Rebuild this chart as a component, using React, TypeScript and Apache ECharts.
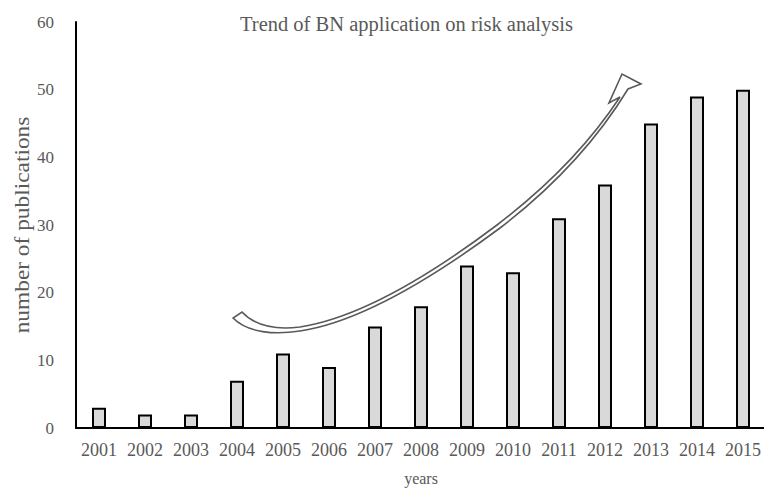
import React, { useEffect, useRef } from "react";
import * as echarts from "echarts";

const years = ["2001", "2002", "2003", "2004", "2005", "2006", "2007", "2008", "2009", "2010", "2011", "2012", "2013", "2014", "2015"];
const publications = [3, 2, 2, 7, 11, 9, 15, 18, 24, 23, 31, 36, 45, 49, 50];
const yTicks = { min: 0, max: 60, interval: 10 };
const yAxisTitle = "number of publications";

// Curved block arrow showing the upward trend
const trendArrowPath =
  "M233,318 C248,333 275,335 300,331 C360,322 430,280 500,228 C560,182 600,135 628,89 " +
  "L641,84 L622,74 L609,103 L620,97 " +
  "C595,135 556,180 497,225 C428,277 358,318 300,327 C276,330 255,326 242,312 Z";

echarts.graphic.registerShape("trendArrow", echarts.graphic.extendPath(trendArrowPath, {}) as any);

const FONT = "'Liberation Serif', 'Times New Roman', serif";
const GREY = "#595959";

export default function App() {
  const ref = useRef<HTMLDivElement>(null);

  useEffect(() => {
    if (!ref.current) return;
    const chart = echarts.init(ref.current, undefined, { renderer: "svg" });
    chart.setOption({
      animation: false,
      backgroundColor: "#ffffff",
      title: {
        text: "Trend of BN application on risk analysis",
        left: 235,
        top: 8,
        textStyle: { fontFamily: FONT, fontSize: 20.5, fontWeight: "normal", color: GREY },
      },
      grid: { left: 76, top: 22, width: 690, bottom: 64, containLabel: false, outerBoundsMode: "none" },
      xAxis: {
        type: "category",
        data: years,
        name: "years",
        nameLocation: "middle",
        nameGap: 42,
        nameMoveOverlap: false,
        nameTextStyle: { fontFamily: FONT, fontSize: 16, color: GREY },
        axisLine: { lineStyle: { color: "#000", width: 2 } },
        axisTick: { show: false },
        axisLabel: { fontFamily: FONT, fontSize: 18, color: GREY, margin: 13, interval: 0, hideOverlap: false },
      },
      yAxis: {
        type: "value",
        min: yTicks.min,
        max: yTicks.max,
        interval: yTicks.interval,
        axisLine: { show: true, lineStyle: { color: "#000", width: 2 } },
        axisTick: { show: false },
        splitLine: { show: false },
        axisLabel: { fontFamily: FONT, fontSize: 17, color: GREY, margin: 22 },
      },
      series: [
        {
          type: "bar",
          data: publications,
          barWidth: 14,
          itemStyle: { color: "#d9d9d9", borderColor: "#000", borderWidth: 2 },
        },
      ],
      graphic: [
        {
          // vertical axis title, slightly stretched along its length
          type: "text",
          x: 22,
          y: 225,
          rotation: Math.PI / 2,
          scaleX: 1.14,
          style: {
            text: yAxisTitle,
            fontFamily: FONT,
            fontSize: 20.5,
            fill: GREY,
            align: "center",
            verticalAlign: "middle",
          },
        },
        {
          type: "trendArrow",
          x: 0,
          y: 0,
          z: 10,
          style: { fill: "#ffffff", stroke: GREY, lineWidth: 1.6 },
        },
      ],
    });
    return () => chart.dispose();
  }, []);

  return <div ref={ref} style={{ width: 764, height: 492, position: "absolute", left: 0, top: 0 }} />;
}
